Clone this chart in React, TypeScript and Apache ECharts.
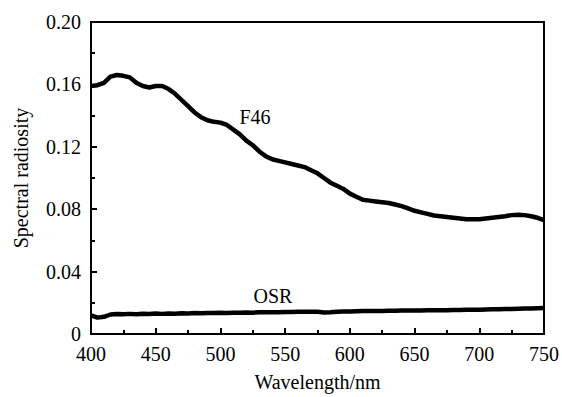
import React, { useEffect, useRef } from "react";
import * as echarts from "echarts";

const wavelengths = [
  400, 405, 410, 415, 420, 425, 430, 435, 440, 445, 450, 455, 460, 465, 470, 475, 480, 485, 490, 495,
  500, 505, 510, 515, 520, 525, 530, 535, 540, 545, 550, 555, 560, 565, 570, 575, 580, 585, 590, 595,
  600, 605, 610, 615, 620, 625, 630, 635, 640, 645, 650, 655, 660, 665, 670, 675, 680, 685, 690, 695,
  700, 705, 710, 715, 720, 725, 730, 735, 740, 745, 750,
];

const f46 = [
  0.159, 0.1595, 0.161, 0.165, 0.166, 0.1655, 0.1645, 0.161, 0.159, 0.158, 0.159, 0.159, 0.157, 0.154, 0.15, 0.146, 0.142, 0.139, 0.137, 0.136,
  0.1355, 0.134, 0.131, 0.128, 0.124, 0.121, 0.117, 0.114, 0.112, 0.111, 0.11, 0.109, 0.108, 0.107, 0.105, 0.103, 0.1, 0.097, 0.095, 0.093,
  0.09, 0.088, 0.086, 0.0855, 0.085, 0.0845, 0.084, 0.083, 0.082, 0.0805, 0.079, 0.078, 0.077, 0.076, 0.0755, 0.075, 0.0745, 0.074, 0.0735, 0.0735,
  0.0735, 0.074, 0.0745, 0.075, 0.0755, 0.0762, 0.0765, 0.0762, 0.0755, 0.0745, 0.073,
];

const osr = [
  0.012, 0.0105, 0.011, 0.0125, 0.0128, 0.0126, 0.0129, 0.0127, 0.013, 0.0128, 0.0131, 0.0129, 0.0132, 0.013, 0.0133, 0.0131, 0.0134, 0.0133, 0.0135, 0.0134,
  0.0136, 0.0135, 0.0137, 0.0136, 0.0138, 0.0137, 0.0139, 0.0139, 0.014, 0.0139, 0.0141, 0.0141, 0.0142, 0.0142, 0.0143, 0.0142, 0.0138, 0.0139, 0.0142, 0.0144,
  0.0145, 0.0146, 0.0147, 0.0147, 0.0148, 0.0148, 0.0149, 0.0149, 0.015, 0.015, 0.0151, 0.0151, 0.0152, 0.0152, 0.0153, 0.0153, 0.0154, 0.0154, 0.0155, 0.0155,
  0.0156, 0.0157, 0.0158, 0.0159, 0.016, 0.0161, 0.0162, 0.0163, 0.0164, 0.0165, 0.0166,
];

const seriesLabels = ["F46", "OSR"];
const xTitle = "Wavelength/nm";
const yTitle = "Spectral radiosity";

export default function App() {
  const ref = useRef<HTMLDivElement>(null);
  useEffect(() => {
    if (!ref.current) return;
    const chart = echarts.init(ref.current, null, { renderer: "svg" });
    const font = "Liberation Serif";
    const rich = { s: { fontFamily: font, fontSize: 20, color: "#000" } };
    const axisCommon = {
      axisLine: { show: true, lineStyle: { color: "#000", width: 2 } },
      axisTick: { show: true, inside: true, length: 6, lineStyle: { color: "#000", width: 2 } },
      minorTick: { show: true, splitNumber: 2, length: 4, lineStyle: { color: "#000", width: 2 } },
      splitLine: { show: false },
      nameTextStyle: { fontFamily: font, fontSize: 20, color: "#000" },
    };
    chart.setOption({
      animation: false,
      backgroundColor: "#fff",
      textStyle: { fontFamily: font },
      grid: { left: 91, right: 14, top: 22, bottom: 62, show: true, borderColor: "#000", borderWidth: 2, backgroundColor: "transparent" },
      xAxis: {
        type: "value",
        min: 400,
        max: 750,
        interval: 50,
        name: xTitle,
        nameLocation: "middle",
        nameGap: 38,
        axisLabel: {
          fontFamily: font,
          fontSize: 20,
          color: "#000",
          margin: 10,
          formatter: (v: number) => "{s|" + v + "}",
          rich,
        },
        ...axisCommon,
      },
      yAxis: {
        type: "value",
        min: 0,
        max: 0.2,
        interval: 0.04,
        name: yTitle,
        nameLocation: "middle",
        nameGap: 60,
        axisLabel: {
          fontFamily: font,
          fontSize: 20,
          color: "#000",
          margin: 10,
          formatter: (v: number) => "{s|" + (v === 0 ? "0" : v.toFixed(2)) + "}",
          rich,
        },
        ...axisCommon,
      },
      series: [
        {
          name: seriesLabels[0],
          type: "line",
          data: wavelengths.map((w, i) => [w, f46[i]]),
          showSymbol: false,
          lineStyle: { color: "#000", width: 4.5 },
        },
        {
          name: seriesLabels[1],
          type: "line",
          data: wavelengths.map((w, i) => [w, osr[i]]),
          showSymbol: false,
          lineStyle: { color: "#000", width: 4.5 },
        },
      ],
      graphic: [
        {
          type: "text",
          x: 255,
          y: 117,
          style: { text: seriesLabels[0], fontFamily: font, fontSize: 20, fill: "#000", align: "center", verticalAlign: "middle" },
        },
        {
          type: "text",
          x: 273,
          y: 296,
          style: { text: seriesLabels[1], fontFamily: font, fontSize: 20, fill: "#000", align: "center", verticalAlign: "middle" },
        },
      ],
    });
    return () => chart.dispose();
  }, []);
  return <div ref={ref} style={{ width: 562, height: 397, position: "absolute", left: 0, top: 0 }} />;
}
